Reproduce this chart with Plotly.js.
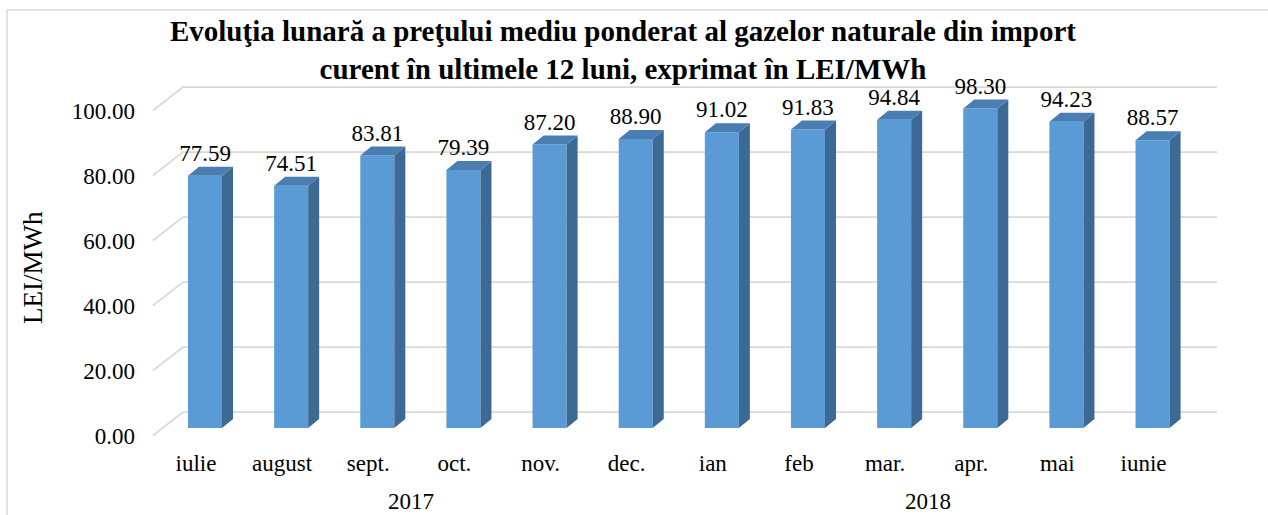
<!DOCTYPE html>
<html><head><meta charset="utf-8">
<script src="https://cdn.plot.ly/plotly-3.0.1.min.js"></script>
<style>html,body{margin:0;padding:0;background:#fff}</style>
</head><body><div id="chart" style="width:1268px;height:515px"></div>
<script>
// ---- data ----
const months = ['iulie','august','sept.','oct.','nov.','dec.','ian','feb','mar.','apr.','mai','iunie'];
const years = ['2017','2018'];
const monthsPerYear = [6, 6];
const prices = [77.59, 74.51, 83.81, 79.39, 87.20, 88.90, 91.02, 91.83, 94.84, 98.30, 94.23, 88.57];
const yTicks = [0, 20, 40, 60, 80, 100];
const titleText = '<b>Evoluţia lunară a preţului mediu ponderat al gazelor naturale din import<br>curent în ultimele 12 luni, exprimat în LEI/MWh</b>';
const yTitle = 'LEI/MWh';

// ---- geometry (styling) ----
const W = 1268, H = 515, ML = 136, MR = 38, MT = 80, MB = 70;
const pw = W - ML - MR, ph = H - MT - MB;
const xRange = [-0.801, 11.899];
const pxPerY = 3.25;
const yRange = [(428 - (H - MB)) / pxPerY, (428 - MT) / pxPerY];
const barW = 0.395, hw = barW / 2;
const depthX = 0.128, depthY = 9 / pxPerY;
const frontOff = -2.3, backOff = 4.9;
const gridX = [-0.604, -0.255, 11.748];
const labelShift = -0.105;
const FONT = 'Liberation Serif';
const idx = prices.map((_, i) => i);

// gridlines (back wall + floor diagonals)
const gx = [], gy = [];
yTicks.forEach(t => { gx.push(gridX[0], gridX[1], gridX[2], null); gy.push(t + frontOff, t + backOff, t + backOff, null); });

// side and top faces
const sx = [], sy = [], tx = [], ty = [];
prices.forEach((v, i) => {
  sx.push(i + hw, i + hw + depthX, i + hw + depthX, i + hw, null);
  sy.push(0, depthY, v + depthY, v, null);
  tx.push(i - hw, i - hw + depthX, i + hw + depthX, i + hw, null);
  ty.push(v, v + depthY, v + depthY, v, null);
});

const traces = [
  {type: 'scatter', mode: 'lines', x: gx, y: gy, xaxis: 'x', yaxis: 'y',
   line: {color: '#d9d9d9', width: 1.8}, hoverinfo: 'skip'},
  {type: 'bar', x: idx, y: prices, width: barW, xaxis: 'x2', yaxis: 'y2',
   marker: {color: '#5B9BD5', line: {width: 0}}, hoverinfo: 'y'},
  {type: 'scatter', mode: 'lines', x: sx, y: sy, fill: 'toself', fillcolor: '#3D6A94',
   line: {width: 0, color: '#3D6A94'}, xaxis: 'x2', yaxis: 'y2', hoverinfo: 'skip'},
  {type: 'scatter', mode: 'lines', x: tx, y: ty, fill: 'toself', fillcolor: '#4A7EB2',
   line: {width: 0, color: '#4A7EB2'}, xaxis: 'x2', yaxis: 'y2', hoverinfo: 'skip'},
  {type: 'scatter', mode: 'text', x: idx, y: prices.map(v => v + depthY),
   text: prices.map(v => v.toFixed(2)), textposition: 'top center',
   textfont: {family: FONT, size: 23, color: '#000'}, cliponaxis: false,
   xaxis: 'x2', yaxis: 'y2', hoverinfo: 'skip'}
];

// year annotations
const annotations = [];
let start = 0;
years.forEach((yr, k) => {
  const n = monthsPerYear[k];
  annotations.push({text: yr, x: start + (n - 1) / 2 + labelShift, xref: 'x', y: (H - MB - 502) / ph, yref: 'paper',
    yanchor: 'middle', showarrow: false, font: {family: FONT, size: 23, color: '#000'}});
  start += n;
});
annotations.push({text: yTitle, textangle: -90, x: (33 - ML) / pw, xref: 'paper', y: (H - MB - 268) / ph, yref: 'paper',
  xanchor: 'center', yanchor: 'middle', showarrow: false, font: {family: FONT, size: 27, color: '#000'}});

const layout = {
  width: W, height: H,
  margin: {l: ML, r: MR, t: MT, b: MB, pad: 0},
  paper_bgcolor: '#fff', plot_bgcolor: 'rgba(0,0,0,0)',
  showlegend: false,
  title: {text: titleText, font: {family: FONT, size: 29, color: '#000'},
    x: 623 / W, xref: 'container', xanchor: 'center', y: 1 - 41 / H, yref: 'container', yanchor: 'top'},
  xaxis: {range: xRange, showgrid: false, zeroline: false, showline: false, ticks: '',
    tickvals: idx.map(i => i + labelShift), ticktext: months, ticklabelstandoff: 2,
    tickfont: {family: FONT, size: 23, color: '#000'}, fixedrange: true},
  yaxis: {range: yRange, showgrid: false, zeroline: false, showline: false, ticks: '',
    tickvals: yTicks.map(t => t + frontOff), ticktext: yTicks.map(t => t.toFixed(2)),
    tickfont: {family: FONT, size: 23, color: '#000'}, fixedrange: true},
  xaxis2: {range: xRange, overlaying: 'x', visible: false, fixedrange: true},
  yaxis2: {range: yRange, overlaying: 'y', visible: false, fixedrange: true},
  annotations: annotations,
  shapes: [{type: 'rect', xref: 'paper', yref: 'paper',
    x0: (7 - ML) / pw, x1: (W + 10 - ML) / pw, y0: (H - MB - (H + 10)) / ph, y1: (H - MB - 10) / ph,
    line: {color: '#d9d9d9', width: 1.5}, layer: 'below'}]
};

Plotly.newPlot('chart', traces, layout, {displayModeBar: false, staticPlot: true});
</script></body></html>
